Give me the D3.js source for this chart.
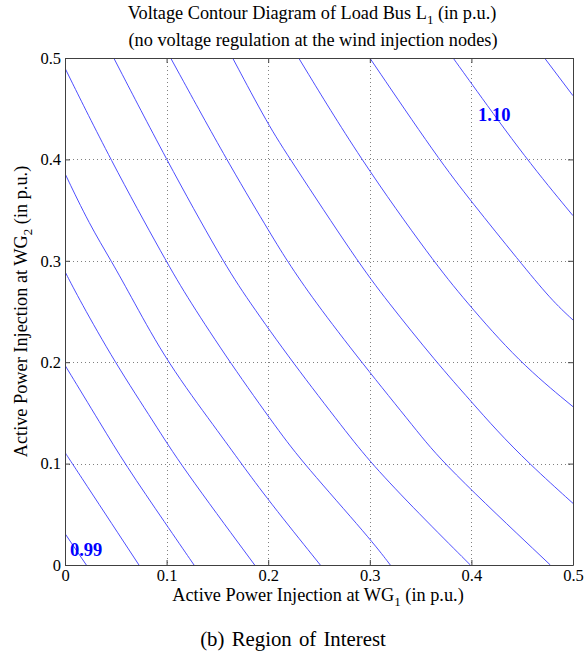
<!DOCTYPE html>
<html>
<head>
<meta charset="utf-8">
<script src="https://cdn.jsdelivr.net/npm/d3@7"></script>
<style>
  html, body { margin: 0; padding: 0; background: #fff; }
  svg { display: block; }
  text { font-family: "Liberation Serif", "Times New Roman", serif; fill: #000; }
</style>
</head>
<body>
<svg id="chart" width="585" height="656"></svg>
<script>
// ---- data ----
const xTicks = [0, 0.1, 0.2, 0.3, 0.4, 0.5];
const yTicks = [0, 0.1, 0.2, 0.3, 0.4, 0.5];
const xTickLabels = ["0", "0.1", "0.2", "0.3", "0.4", "0.5"];
const yTickLabels = ["0", "0.1", "0.2", "0.3", "0.4", "0.5"];

const levels = [0.99, 1.00, 1.01, 1.02, 1.03, 1.04, 1.05, 1.06, 1.07, 1.08, 1.09, 1.10, 1.11];

// contour lines: [WG1, WG2] pairs
const c099 = [[0, 0.031], [0.021, 0]];
const c100 = [[0, 0.111], [0.0072, 0.1], [0.0728, 0]];
const c101 = [[0, 0.197], [0.0358, 0.138], [0.0587, 0.1], [0.1, 0.0394], [0.127, 0]];
const c102 = [[0, 0.2893], [0.0144, 0.2613], [0.0489, 0.2], [0.0892, 0.138], [0.1129, 0.1], [0.1867, 0]];
const c103 = [[0, 0.386], [0.0243, 0.3353], [0.0456, 0.3], [0.0669, 0.2613], [0.1004, 0.2], [0.1496, 0.1331], [0.1736, 0.1], [0.2, 0.064], [0.2513, 0]];
const c104 = [[0, 0.49], [0.044, 0.401], [0.0991, 0.3], [0.122, 0.2613], [0.1621, 0.2], [0.2096, 0.1331], [0.2349, 0.1], [0.3, 0.0264], [0.3202, 0]];
const c105 = [[0.048, 0.5], [0.0991, 0.401], [0.1549, 0.3], [0.1801, 0.2613], [0.2238, 0.2], [0.2753, 0.1331], [0.3015, 0.1], [0.348, 0.051], [0.399, 0]];
const c106 = [[0.104, 0.5], [0.1581, 0.401], [0.2, 0.3304], [0.2185, 0.3], [0.2448, 0.2613], [0.2917, 0.2], [0.3458, 0.1331], [0.372, 0.1], [0.4777, 0]];
const c107 = [[0.165, 0.5], [0.2, 0.4339], [0.2211, 0.401], [0.2874, 0.3], [0.3163, 0.2613], [0.3655, 0.2], [0.4, 0.161], [0.4245, 0.1331], [0.4567, 0.1], [0.5, 0.0608]];
const c108 = [[0.230, 0.5], [0.29, 0.401], [0.3622, 0.3], [0.3934, 0.2613], [0.4469, 0.2], [0.5, 0.1561]];
const c109 = [[0.300, 0.5], [0.3671, 0.401], [0.4, 0.3583], [0.4469, 0.3], [0.4787, 0.2613], [0.5, 0.2416]];
const c110 = [[0.382, 0.5], [0.4, 0.4749], [0.4534, 0.401], [0.5, 0.3445]];
const c111 = [[0.472, 0.5], [0.5, 0.4628]];
const contours = [c099, c100, c101, c102, c103, c104, c105, c106, c107, c108, c109, c110, c111];

// contour labels
const labelTexts = ["0.99", "1.10"];
const labelPos = [[0.0049, 0.0089], [0.4065, 0.4374]];

// ---- layout ----
const svg = d3.select("#chart");
const mLeft = 65, mRight = 573, mTop = 58, mBottom = 565;

const x = d3.scaleLinear().domain([0, 0.5]).range([mLeft, mRight]);
const y = d3.scaleLinear().domain([0, 0.5]).range([mBottom, mTop]);

svg.append("defs").append("clipPath").attr("id", "clip")
  .append("rect").attr("x", mLeft).attr("y", mTop).attr("width", mRight - mLeft).attr("height", mBottom - mTop);

// grid
const grid = svg.append("g");
grid.selectAll("line.gx").data(xTicks.slice(1, -1)).enter().append("line")
  .attr("x1", d => Math.round(x(d)) + 0.5).attr("x2", d => Math.round(x(d)) + 0.5)
  .attr("y1", mTop).attr("y2", mBottom)
  .attr("stroke", "#808080").attr("stroke-width", 1).attr("stroke-dasharray", "1,3");
grid.selectAll("line.gy").data(yTicks.slice(1, -1)).enter().append("line")
  .attr("y1", d => Math.round(y(d)) + 0.5).attr("y2", d => Math.round(y(d)) + 0.5)
  .attr("x1", mLeft).attr("x2", mRight)
  .attr("stroke", "#808080").attr("stroke-width", 1).attr("stroke-dasharray", "1,3");

// contour lines
const line = d3.line()
  .x(d => x(d[0])).y(d => y(d[1]))
  .curve(d3.curveBasis);
svg.append("g").attr("clip-path", "url(#clip)")
  .selectAll("path").data(contours).enter().append("path")
  .attr("d", d => line(d.slice().sort((a, b) => a[0] - b[0])))
  .attr("fill", "none").attr("stroke", "#3a3aff").attr("stroke-width", 0.9);

// contour labels
svg.append("g").selectAll("text").data(labelTexts).enter().append("text")
  .attr("x", (d, i) => x(labelPos[i][0]))
  .attr("y", (d, i) => y(labelPos[i][1]))
  .attr("font-size", 18.5).attr("font-weight", "bold")
  .style("fill", "#0000ff")
  .text(d => d);

// axes (MATLAB-like box, inward ticks)
const axCol = "#404040";
const tickLen = 5;
const gB = svg.append("g").attr("transform", `translate(0,${mBottom})`)
  .call(d3.axisBottom(x).tickValues(xTicks).tickSizeInner(-tickLen).tickSizeOuter(0)
    .tickPadding(8).tickFormat((d, i) => xTickLabels[i]));
const gT = svg.append("g").attr("transform", `translate(0,${mTop})`)
  .call(d3.axisTop(x).tickValues(xTicks).tickSizeInner(-tickLen).tickSizeOuter(0).tickFormat(""));
const gL = svg.append("g").attr("transform", `translate(${mLeft},0)`)
  .call(d3.axisLeft(y).tickValues(yTicks).tickSizeInner(-tickLen).tickSizeOuter(0)
    .tickPadding(5).tickFormat((d, i) => yTickLabels[i]));
const gR = svg.append("g").attr("transform", `translate(${mRight},0)`)
  .call(d3.axisRight(y).tickValues(yTicks).tickSizeInner(-tickLen).tickSizeOuter(0).tickFormat(""));
[gB, gT, gL, gR].forEach(g => {
  g.attr("font-family", "Liberation Serif, serif");
  g.select(".domain").attr("stroke", axCol);
  g.selectAll(".tick line").attr("stroke", axCol);
  g.selectAll(".tick text").attr("font-family", "Liberation Serif, serif").attr("font-size", 16.5).attr("fill", "#000");
});
gB.selectAll(".tick text").attr("y", 16).attr("dy", "0");
gL.selectAll(".tick text").attr("x", -4).attr("dy", "0.32em");

// titles
const fs = 18.3;
const t1 = svg.append("text").attr("x", 312).attr("y", 19).attr("text-anchor", "middle").attr("font-size", fs);
t1.append("tspan").text("Voltage Contour Diagram of Load Bus L");
t1.append("tspan").attr("dy", 5).attr("font-size", 13).text("1");
t1.append("tspan").attr("dy", -5).text(" (in p.u.)");

svg.append("text").attr("x", 313).attr("y", 46).attr("text-anchor", "middle").attr("font-size", fs)
  .text("(no voltage regulation at the wind injection nodes)");

const xl = svg.append("text").attr("x", 318).attr("y", 601).attr("text-anchor", "middle").attr("font-size", fs);
xl.append("tspan").text("Active Power Injection at WG");
xl.append("tspan").attr("dy", 5).attr("font-size", 13).text("1");
xl.append("tspan").attr("dy", -5).text(" (in p.u.)");

const yl = svg.append("text").attr("transform", `translate(27,${(mTop + mBottom) / 2}) rotate(-90)`)
  .attr("text-anchor", "middle").attr("font-size", fs);
yl.append("tspan").text("Active Power Injection at WG");
yl.append("tspan").attr("dy", 5).attr("font-size", 13).text("2");
yl.append("tspan").attr("dy", -5).text(" (in p.u.)");

svg.append("text").attr("x", 293).attr("y", 646).attr("text-anchor", "middle").attr("font-size", 20.8)
  .attr("word-spacing", 2)
  .text("(b) Region of Interest");
</script>
</body>
</html>
